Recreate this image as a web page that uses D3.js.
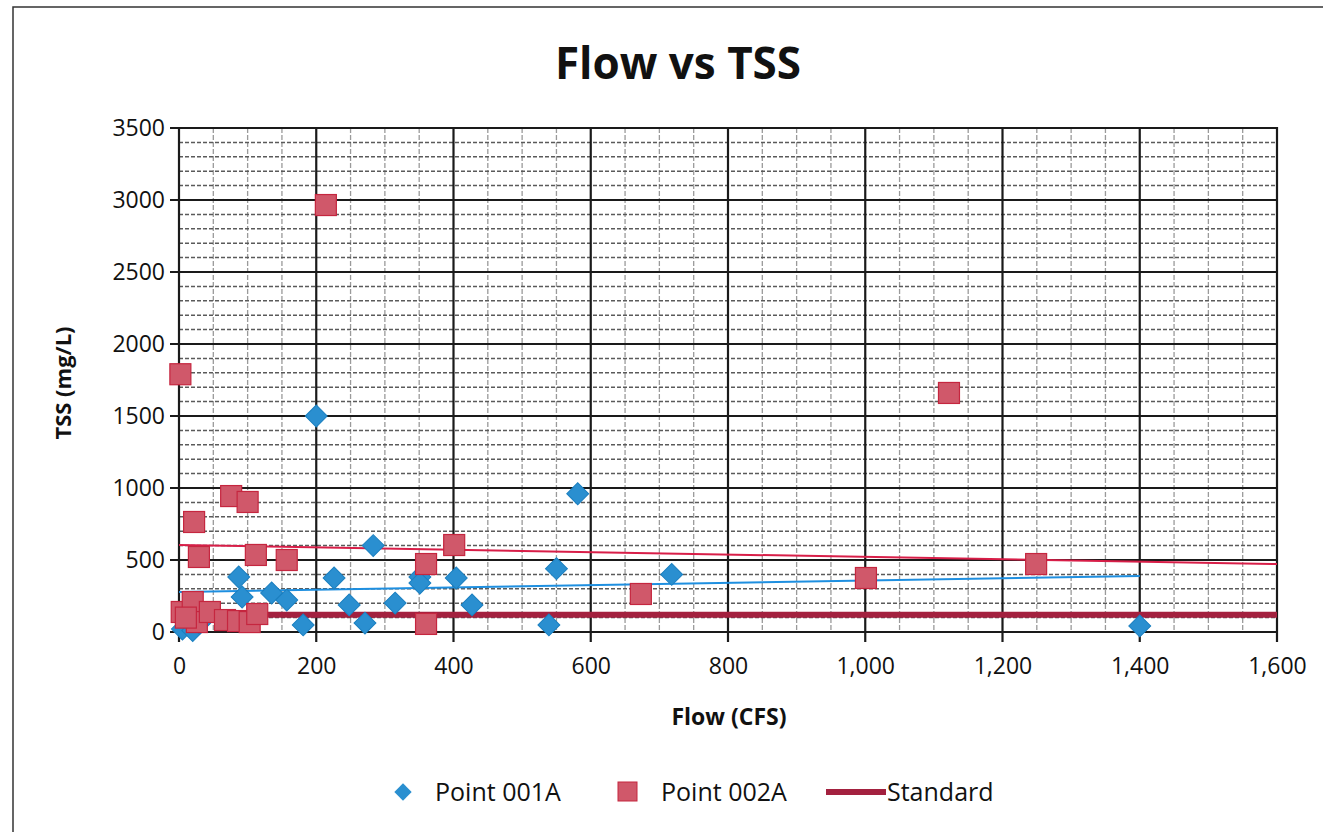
<!DOCTYPE html>
<html><head><meta charset="utf-8">
<script src="https://cdn.jsdelivr.net/npm/d3@7"></script>
<style>body{margin:0;background:#fff;} svg{display:block;font-family:"Open Sans",sans-serif;}</style>
</head><body>
<svg id="chart" width="1323" height="832"></svg>
<script>
// ---- data ----
const flow001 = [200, 283, 581, 550, 718, 404, 351, 351, 427, 539, 87, 92, 135, 157, 181, 226, 248, 271, 315, 1400, 5, 20, 30];
const tss001  = [1500, 600, 960, 440, 400, 375, 382, 340, 188, 49, 382, 243, 271, 222, 49, 375, 188, 62, 201, 42, 20, 10, 60];
const flow002 = [2, 214, 1122, 76, 100, 22, 29, 112, 157, 360, 401, 673, 1001, 1249, 360, 4, 20, 26, 45, 67, 86, 103, 114, 10];
const tss002  = [1790, 2965, 1660, 944, 903, 764, 521, 535, 500, 472, 604, 264, 375, 472, 56, 139, 208, 69, 139, 83, 76, 69, 125, 100];
const trend001 = [[0, 278], [1400, 389]];
const trend002 = [[0, 604], [1600, 472]];
const standard = [[0, 120], [1600, 120]];
const xTicks = [0, 200, 400, 600, 800, 1000, 1200, 1400, 1600];
const yTicks = [0, 500, 1000, 1500, 2000, 2500, 3000, 3500];
const legendLabels = ["Point 001A", "Point 002A", "Standard"];

const svg = d3.select("#chart");
svg.append("rect").attr("x", 13).attr("y", 7).attr("width", 1400).attr("height", 900)
  .attr("fill", "#fff").attr("stroke", "#333").attr("stroke-width", 1.5);

const x = d3.scaleLinear().domain([0, 1600]).range([179, 1277]);
const y = d3.scaleLinear().domain([0, 3500]).range([632, 128]);

const g = svg.append("g");
// minor grid
g.selectAll(".mx").data(d3.range(50, 1600, 50).filter(v => v % 200)).join("line")
  .attr("x1", d => x(d)).attr("x2", d => x(d)).attr("y1", y(3500)).attr("y2", y(0))
  .attr("stroke", "#9a9a9a").attr("stroke-width", 1.3).attr("stroke-dasharray", "5,2");
g.selectAll(".my").data(d3.range(100, 3500, 100).filter(v => v % 500)).join("line")
  .attr("y1", d => y(d)).attr("y2", d => y(d)).attr("x1", x(0)).attr("x2", x(1600))
  .attr("stroke", "#5a5a5a").attr("stroke-width", 1.5).attr("stroke-dasharray", "4,2");
// major grid
g.selectAll(".Mx").data(xTicks).join("line")
  .attr("x1", d => x(d)).attr("x2", d => x(d)).attr("y1", y(3500) - 1).attr("y2", y(0) + 10)
  .attr("stroke", "#1a1a1a").attr("stroke-width", 2.2);
g.selectAll(".My").data(yTicks).join("line")
  .attr("y1", d => y(d)).attr("y2", d => y(d)).attr("x1", x(0) - 9).attr("x2", x(1600) + 1)
  .attr("stroke", "#1a1a1a").attr("stroke-width", 2.2);

// axes labels
const xAxis = d3.axisBottom(x).tickValues(xTicks).tickSize(0).tickPadding(26).tickFormat(d3.format(",d"));
const ax = svg.append("g").attr("transform", `translate(0,${y(0)})`).call(xAxis);
ax.select(".domain").remove();
ax.selectAll("text").attr("font-size", 23).attr("fill", "#111").attr("font-family", "Open Sans");
const yAxis = d3.axisLeft(y).tickValues(yTicks).tickSize(0).tickPadding(14).tickFormat(d3.format("d"));
const ay = svg.append("g").attr("transform", `translate(${x(0)},0)`).call(yAxis);
ay.select(".domain").remove();
ay.selectAll("text").attr("font-size", 23).attr("fill", "#111").attr("font-family", "Open Sans");

// lines
const line = d3.line().x(d => x(d[0])).y(d => y(d[1]));
svg.append("path").attr("d", line(standard)).attr("stroke", "#a3213f").attr("stroke-width", 6).attr("fill", "none");
svg.append("path").attr("d", line(trend002)).attr("stroke", "#d81e48").attr("stroke-width", 2).attr("fill", "none");
svg.append("path").attr("d", line(trend001)).attr("stroke", "#1e8fe0").attr("stroke-width", 2).attr("fill", "none");

// markers
const diamond = d3.symbol().type(d3.symbolSquare).size(240);
svg.append("g").selectAll("path").data(flow001.map((f, i) => [f, tss001[i]])).join("path")
  .attr("d", diamond).attr("transform", d => `translate(${x(d[0])},${y(d[1])}) rotate(45)`)
  .attr("fill", "#2a8fd0").attr("stroke", "#1a7fc0").attr("stroke-width", 1);
svg.append("g").selectAll("rect").data(flow002.map((f, i) => [f, tss002[i]])).join("rect")
  .attr("x", d => x(d[0]) - 10.5).attr("y", d => y(d[1]) - 10.5).attr("width", 21).attr("height", 21)
  .attr("fill", "#d0586a").attr("stroke", "#c5263f").attr("stroke-width", 1.2);

// title
svg.append("text").attr("x", 678).attr("y", 79).attr("text-anchor", "middle")
  .attr("font-size", 44).attr("font-weight", "bold").attr("fill", "#111").text("Flow vs TSS");
svg.append("text").attr("x", 729).attr("y", 725).attr("text-anchor", "middle")
  .attr("font-size", 23).attr("font-weight", "bold").attr("fill", "#111").text("Flow (CFS)");
svg.append("text").attr("transform", "translate(71,383) rotate(-90)").attr("text-anchor", "middle")
  .attr("font-size", 22).attr("font-weight", "bold").attr("fill", "#111").text("TSS (mg/L)");

// legend
const lg = svg.append("g");
lg.append("path").attr("d", d3.symbol().type(d3.symbolSquare).size(150)).attr("transform", "translate(403,792) rotate(45)")
  .attr("fill", "#2a8fd0");
lg.append("text").attr("x", 435).attr("y", 801).attr("font-size", 25).attr("fill", "#111").text(legendLabels[0]);
lg.append("rect").attr("x", 618).attr("y", 782).attr("width", 19).attr("height", 19).attr("fill", "#d0586a").attr("stroke", "#c5263f");
lg.append("text").attr("x", 661).attr("y", 801).attr("font-size", 25).attr("fill", "#111").text(legendLabels[1]);
lg.append("line").attr("x1", 826).attr("x2", 886).attr("y1", 792).attr("y2", 792).attr("stroke", "#a3213f").attr("stroke-width", 6);
lg.append("text").attr("x", 887).attr("y", 801).attr("font-size", 25).attr("fill", "#111").text(legendLabels[2]);
</script>
</body></html>
